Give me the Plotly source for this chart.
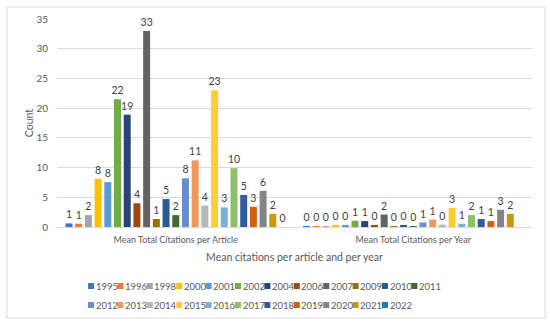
import plotly.graph_objects as go

categories = ["Mean Total Citations per Article", "Mean Total Citations per Year"]
series_names = ["1995", "1996", "1998", "2000", "2001", "2002", "2004", "2006", "2007", "2009",
                "2010", "2011", "2012", "2013", "2014", "2015", "2016", "2017", "2018", "2019",
                "2020", "2021", "2022"]
per_article = [0.6, 0.55, 2.0, 8.1, 7.55, 21.5, 18.9, 4.0, 33.0, 1.35, 4.7, 2.0, 8.2, 11.2, 3.6,
               23.0, 3.3, 9.9, 5.4, 3.4, 6.1, 2.2, 0.0]
per_year = [0.03, 0.04, 0.1, 0.35, 0.35, 1.05, 1.0, 0.3, 2.1, 0.08, 0.25, 0.12, 0.75, 1.25, 0.4,
            3.25, 0.55, 2.0, 1.35, 1.0, 2.9, 2.2, None]
colors = ["#4472C4", "#ED7D31", "#A5A5A5", "#FFC000", "#5B9BD5", "#70AD47", "#264478", "#9E480E",
          "#636363", "#997300", "#255E91", "#43682B", "#698ED0", "#F1975A", "#B7B7B7", "#FFCD33",
          "#7CAFDD", "#8CC168", "#335AA1", "#D26012", "#848484", "#CC9A00", "#2E75B6"]

FONT = "Lato"
W, H = 550, 327
L, R, T, B = 57, 18, 19, 100
pw, ph = W - L - R, H - T - B

fig = go.Figure()
for name, a, y, c in zip(series_names, per_article, per_year, colors):
    fig.add_trace(go.Bar(
        name=name, x=categories, y=[a, y], marker=dict(color=c, line=dict(width=0)),
        texttemplate="%{y:.0f}", textposition="outside", cliponaxis=False,
        constraintext="none",
        textfont=dict(size=10.5, color="#404040", family=FONT), showlegend=False))

# custom compact legend
def px2x(px):
    return (px - L) / pw

def py2y(py):
    return (H - B - py) / ph

shapes = []
annotations = []
row_split = 12
step = 29.4
for i, (name, c) in enumerate(zip(series_names, colors)):
    row = 0 if i < row_split else 1
    col = i if row == 0 else i - row_split
    sx = 88 + col * step
    sy = 286 if row == 0 else 305
    shapes.append(dict(type="rect", xref="paper", yref="paper",
                       x0=px2x(sx), x1=px2x(sx + 6), y0=py2y(sy + 3), y1=py2y(sy - 3),
                       fillcolor=c, line=dict(width=0)))
    annotations.append(dict(xref="paper", yref="paper", x=px2x(sx + 6.5), y=py2y(sy),
                            xanchor="left", yanchor="middle", showarrow=False, text=name,
                            borderpad=0, font=dict(size=9.5, color="#595959", family=FONT)))

# outer chart border
shapes.append(dict(type="rect", xref="paper", yref="paper",
                   x0=px2x(7), x1=px2x(545), y0=py2y(318), y1=py2y(7),
                   line=dict(color="#D9D9D9", width=1), fillcolor="rgba(0,0,0,0)", layer="below"))

fig.update_layout(
    width=W, height=H, barmode="group", bargap=0.06, bargroupgap=0.28,
    margin=dict(l=L, r=R, t=T, b=B, pad=0, autoexpand=False),
    paper_bgcolor="white", plot_bgcolor="white",
    font=dict(family=FONT, color="#595959", size=10),
    xaxis=dict(showgrid=False, showline=True, linecolor="#D9D9D9", linewidth=1, ticks="",
               automargin=False, ticklabelstandoff=4,
               tickfont=dict(size=9, color="#595959"),
               title=dict(text="Mean citations per article and per year", standoff=9,
                          font=dict(size=10.5, color="#595959"))),
    yaxis=dict(range=[0, 35], dtick=5, showgrid=True, gridcolor="#D9D9D9", gridwidth=1,
               zeroline=False, showline=False, ticks="", ticklabelstandoff=8,
               automargin=False,
               tickfont=dict(size=10, color="#595959"),
               title=dict(text="Count", standoff=0, font=dict(size=10.5, color="#595959"))),
    shapes=shapes, annotations=annotations,
)
fig.write_html("out.html", config={"displayModeBar": False},
               post_script="document.body.style.margin='0';document.body.style.overflow='hidden';")
